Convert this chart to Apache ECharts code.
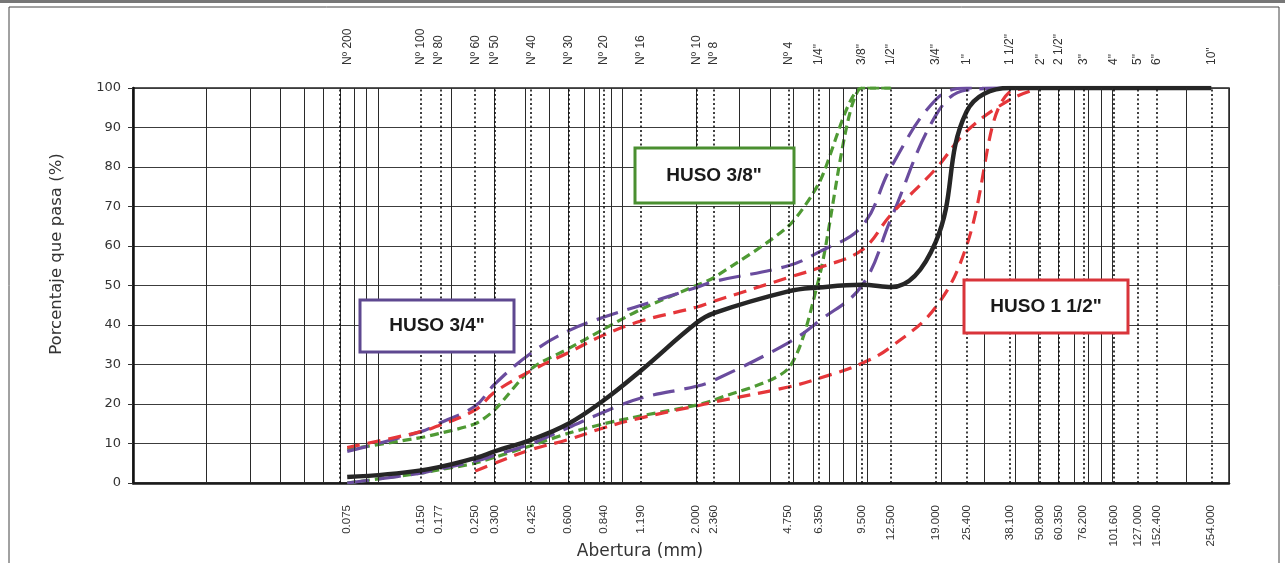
<!DOCTYPE html>
<html>
<head>
<meta charset="utf-8">
<script src="https://cdn.jsdelivr.net/npm/echarts@6/dist/echarts.min.js"></script>
<style>
  html, body { margin: 0; padding: 0; background: #ffffff; }
  #chart { width: 1285px; height: 563px; }
</style>
</head>
<body>
<div id="chart"></div>
<script>
// Sieve openings (mm), their designations and the printed opening labels
const sieveSizes = [0.075, 0.150, 0.177, 0.250, 0.300, 0.425, 0.600, 0.840, 1.190, 2.000, 2.360,
  4.750, 6.350, 9.500, 12.500, 19.000, 25.400, 38.100, 50.800, 60.350, 76.200, 101.600, 127.000, 152.400, 254.000];
const sieveNames = ['Nº 200', 'Nº 100', 'Nº 80', 'Nº 60', 'Nº 50', 'Nº 40', 'Nº 30', 'Nº 20', 'Nº 16', 'Nº 10', 'Nº 8',
  'Nº 4', '1/4"', '3/8"', '1/2"', '3/4"', '1"', '1 1/2"', '2"', '2 1/2"', '3"', '4"', '5"', '6"', '10"'];
const sieveLabels = ['0.075', '0.150', '0.177', '0.250', '0.300', '0.425', '0.600', '0.840', '1.190', '2.000', '2.360',
  '4.750', '6.350', '9.500', '12.500', '19.000', '25.400', '38.100', '50.800', '60.350', '76.200', '101.600', '127.000', '152.400', '254.000'];

// Log-paper background lines (mm)
const logGridLines = [0.02, 0.03, 0.04, 0.05, 0.06, 0.07, 0.08, 0.09, 0.1,
  0.2, 0.3, 0.4, 0.5, 0.6, 0.7, 0.8, 0.9, 1,
  2, 3, 4, 5, 6, 7, 8, 9, 10,
  20, 30, 40, 50, 60, 70, 80, 90, 100, 200, 300];

// Sample grading (percent passing)
const sampleSizes = [0.075, 0.15, 0.25, 0.3, 0.425, 0.6, 0.84, 1.19, 2.0, 2.36, 4.75, 6.35, 9.5, 12.5, 19, 25.4, 38.1, 50.8, 76.2, 101.6, 152.4, 254];
const samplePass  = [1.5, 3.2, 6.3, 8, 11, 15, 21, 28.5, 40.5, 43, 48.5, 49.5, 50.2, 49.6, 61, 94, 100, 100, 100, 100, 100, 100];

// HUSO 3/8" limits
const huso38Sizes = [0.075, 0.15, 0.177, 0.25, 0.3, 0.425, 0.6, 0.84, 1.19, 2.0, 2.36, 4.75, 6.35, 9.5, 12.5];
const huso38Max   = [8.5, 11.5, 12.5, 15, 18.5, 29, 34, 39, 44, 50, 52, 65, 76, 100, 100];
const huso38Min   = [0, 2.5, 3.3, 5, 6.5, 9.5, 12.6, 15, 17, 19.7, 21, 29, 52, 100, 100];

// HUSO 3/4" limits
const huso34Sizes = [0.075, 0.15, 0.177, 0.25, 0.3, 0.425, 0.6, 0.84, 1.19, 2.0, 2.36, 4.75, 6.35, 9.5, 12.5, 19, 25.4, 38.1];
const huso34Max   = [8, 13, 15, 19.5, 25, 33, 38.5, 42, 45, 49.5, 51, 55, 58.5, 65, 80, 97, 100, 100];
const huso34Min   = [0, 2.5, 3.5, 5.5, 7, 10, 14, 18, 21.5, 24.5, 26, 35.5, 41, 50, 67, 93, 99.5, 100];

// HUSO 1 1/2" limits
const huso112MaxSizes = [0.075, 0.15, 0.177, 0.25, 0.3, 0.425, 0.6, 0.84, 1.19, 2.0, 2.36, 4.75, 6.35, 9.5, 12.5, 19, 25.4, 38.1, 50.8];
const huso112Max      = [9, 13, 14.5, 18.5, 23, 28.5, 33, 37.5, 41, 44.5, 46, 52, 54.5, 59, 68, 79.5, 89, 97, 100];
const huso112MinSizes = [0.25, 0.3, 0.425, 0.6, 0.84, 1.19, 2.0, 2.36, 4.75, 6.35, 9.5, 12.5, 19, 25.4, 38.1, 50.8];
const huso112Min      = [3, 5, 8.5, 11, 14, 16.5, 19.5, 20.5, 24.3, 26.5, 30.3, 34.5, 44.5, 60, 99, 100];

const pair = (xs, ys) => xs.map((x, i) => [x, ys[i]]);
const nearestIndex = v => {
  let best = 0;
  sieveSizes.forEach((s, i) => { if (Math.abs(Math.log(s) - Math.log(v)) < Math.abs(Math.log(sieveSizes[best]) - Math.log(v))) best = i; });
  return best;
};

const FONT = '"DejaVu Sans", "Liberation Sans", sans-serif';
const LABEL_FONT = '"Liberation Sans", Arial, sans-serif';
const GREEN = '#4f9a34', PURPLE = '#6a4c9e', RED = '#e5363a', BLACK = '#262626';

function limitLine(name, data, color, dash, smooth) {
  return {
    name, type: 'line', data, symbol: 'none', smooth, z: 3,
    lineStyle: { color, width: 3.2, type: dash, cap: 'butt' }
  };
}

const chart = echarts.init(document.getElementById('chart'), null, { renderer: 'canvas' });

chart.setOption({
  animation: false,
  backgroundColor: '#ffffff',
  grid: { left: 133, right: 56, top: 88, bottom: 80, show: true, borderColor: '#222', borderWidth: 1.5 },
  xAxis: [
    {
      type: 'log', logBase: 10, min: 0.01, max: 300, position: 'bottom',
      axisLine: { show: true, onZero: false, lineStyle: { color: '#1a1a1a', width: 2.5 } },
      axisTick: { show: false }, splitLine: { show: false }, minorSplitLine: { show: false },
      axisLabel: {
        customValues: sieveSizes, rotate: 90, margin: 22, color: '#333',
        fontFamily: LABEL_FONT, fontSize: 11.5,
        formatter: v => sieveLabels[nearestIndex(v)]
      }
    },
    {
      type: 'log', logBase: 10, min: 0.01, max: 300, position: 'top',
      axisLine: { show: false }, axisTick: { show: false }, splitLine: { show: false },
      axisLabel: {
        customValues: sieveSizes, rotate: 90, margin: 23, color: '#333',
        fontFamily: LABEL_FONT, fontSize: 12,
        formatter: v => sieveNames[nearestIndex(v)]
      }
    }
  ],
  yAxis: {
    type: 'value', min: 0, max: 100, interval: 10,
    axisLine: { show: true, lineStyle: { color: '#111', width: 2.5 } },
    axisTick: { show: true, length: 5, lineStyle: { color: '#333' } },
    axisLabel: { margin: 12, color: '#333', fontFamily: FONT, fontSize: 13 },
    splitLine: { show: true, lineStyle: { color: '#3c3c3c', width: 1 } }
  },
  series: [
    {
      name: 'grid', type: 'line', data: [], silent: true, z: 1,
      markLine: {
        silent: true, symbol: ['none', 'none'], label: { show: false }, animation: false,
        lineStyle: { color: '#2a2a2a', width: 1, type: 'solid' },
        data: logGridLines.map(v => ({ xAxis: v }))
      }
    },
    {
      name: 'sieves', type: 'line', data: [], silent: true, z: 1,
      markLine: {
        silent: true, symbol: ['none', 'none'], label: { show: false }, animation: false,
        lineStyle: { color: '#111', width: 1.6, type: [2, 2.5] },
        data: sieveSizes.map(v => ({ xAxis: v }))
      }
    },
    limitLine('HUSO 3/8" máx', pair(huso38Sizes, huso38Max), GREEN, [9, 5], 0.25),
    limitLine('HUSO 3/8" mín', pair(huso38Sizes, huso38Min), GREEN, [9, 5], 0.25),
    limitLine('HUSO 3/4" máx', pair(huso34Sizes, huso34Max), PURPLE, [22, 10], 0.4),
    limitLine('HUSO 3/4" mín', pair(huso34Sizes, huso34Min), PURPLE, [22, 10], 0.4),
    limitLine('HUSO 1 1/2" máx', pair(huso112MaxSizes, huso112Max), RED, [13, 8], 0.4),
    limitLine('HUSO 1 1/2" mín', pair(huso112MinSizes, huso112Min), RED, [13, 8], 0.4),
    {
      name: 'Muestra', type: 'line', data: pair(sampleSizes, samplePass), symbol: 'none',
      smooth: 0.4, z: 4,
      lineStyle: { color: BLACK, width: 4.5 }
    }
  ],
  graphic: [
    // page frame
    { type: 'line', shape: { x1: 0, y1: 1.5, x2: 1285, y2: 1.5 }, style: { stroke: '#777', lineWidth: 3 }, silent: true },
    { type: 'rect', shape: { x: 9, y: 7, width: 1270, height: 570 }, style: { fill: 'none', stroke: '#444', lineWidth: 1 }, silent: true },
    // axis titles
    { type: 'text', x: 57, y: 254, rotation: Math.PI / 2,
      style: { text: 'Porcentaje que pasa (%)', font: '16.5px ' + FONT, fill: '#333', align: 'center', verticalAlign: 'middle' } },
    { type: 'text', x: 640, y: 552,
      style: { text: 'Abertura (mm)', font: '17px ' + FONT, fill: '#333', align: 'center', verticalAlign: 'middle' } },
    // envelope captions
    { type: 'rect', shape: { x: 635, y: 148, width: 159, height: 55 }, z: 10,
      style: { fill: '#fff', stroke: '#4a8f30', lineWidth: 3 } },
    { type: 'text', x: 714, y: 176, z: 11,
      style: { text: 'HUSO 3/8"', font: 'bold 19px ' + LABEL_FONT, fill: '#1a1a1a', align: 'center', verticalAlign: 'middle' } },
    { type: 'rect', shape: { x: 360, y: 300, width: 154, height: 52 }, z: 10,
      style: { fill: '#fff', stroke: '#5e4890', lineWidth: 3 } },
    { type: 'text', x: 437, y: 326, z: 11,
      style: { text: 'HUSO 3/4"', font: 'bold 19px ' + LABEL_FONT, fill: '#1a1a1a', align: 'center', verticalAlign: 'middle' } },
    { type: 'rect', shape: { x: 964, y: 280, width: 164, height: 53 }, z: 10,
      style: { fill: '#fff', stroke: '#d9343a', lineWidth: 3 } },
    { type: 'text', x: 1046, y: 307, z: 11,
      style: { text: 'HUSO 1 1/2"', font: 'bold 19px ' + LABEL_FONT, fill: '#1a1a1a', align: 'center', verticalAlign: 'middle' } }
  ]
});
</script>
</body>
</html>
